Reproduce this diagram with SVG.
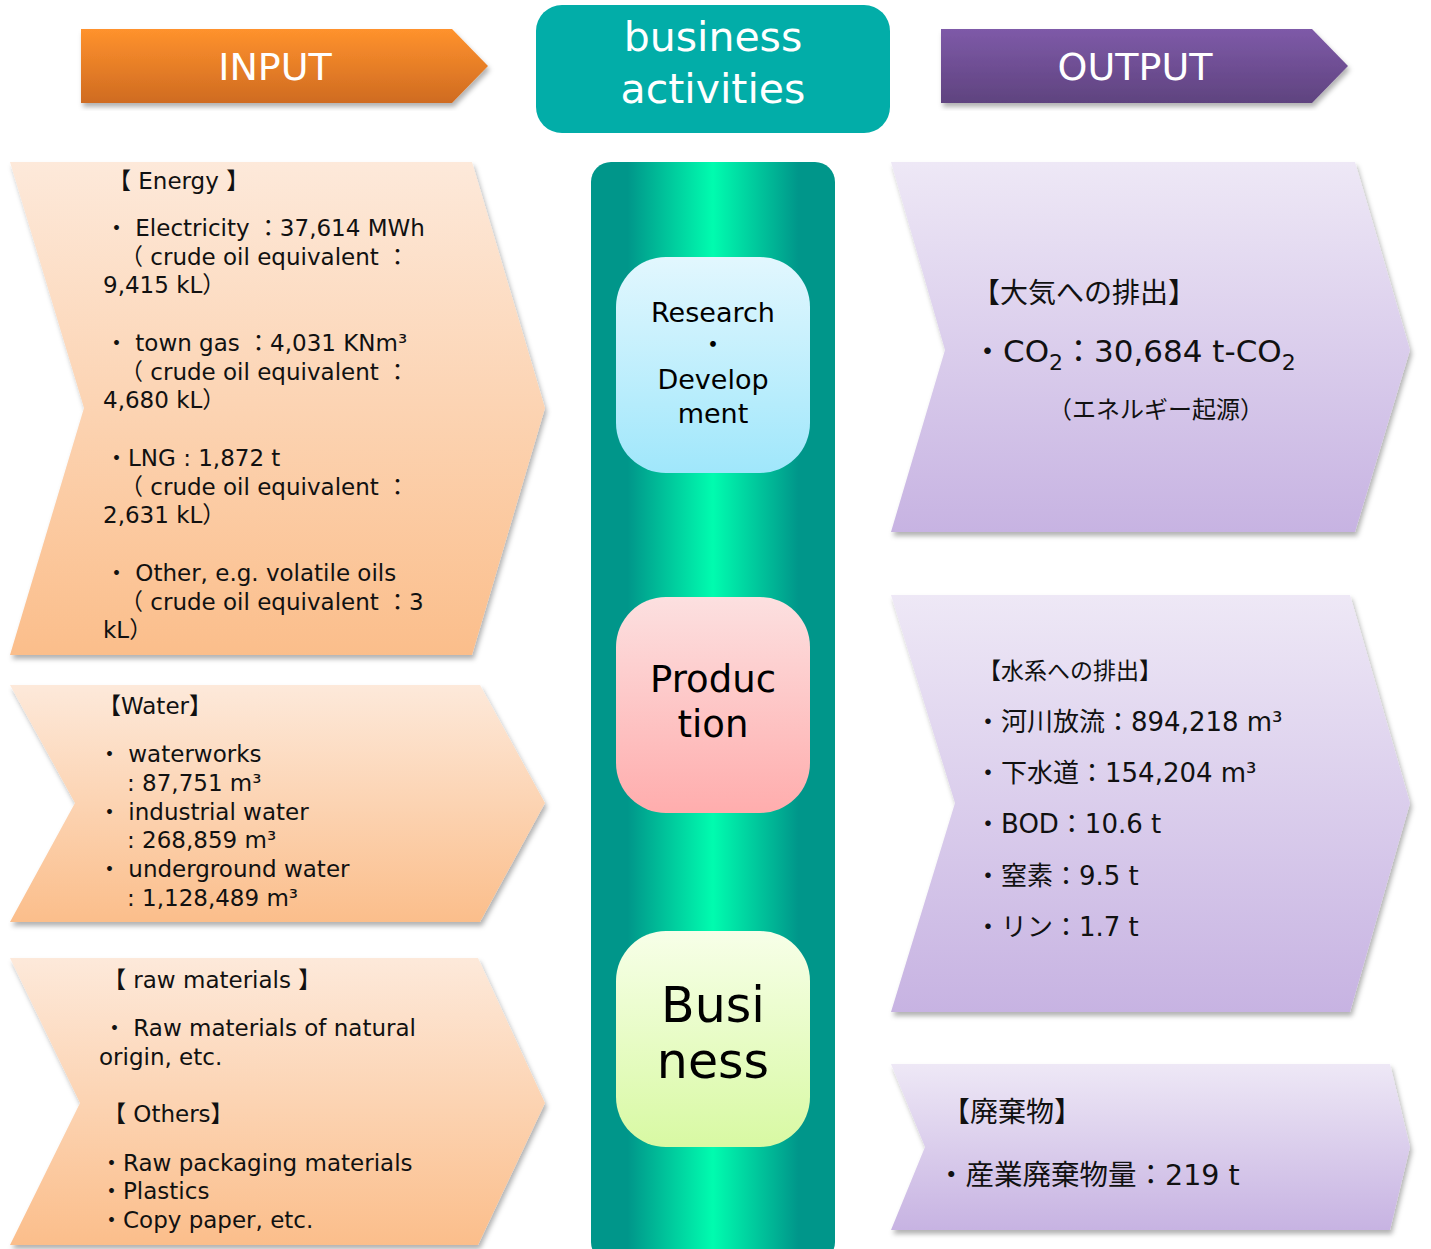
<svg xmlns="http://www.w3.org/2000/svg" width="1431" height="1249" viewBox="0 0 1431 1249">
<defs>
<linearGradient id="gIn" x1="0" y1="0" x2="0" y2="1"><stop offset="0" stop-color="#FF922D"/><stop offset="1" stop-color="#CF6B21"/></linearGradient>
<linearGradient id="gOut" x1="0" y1="0" x2="0" y2="1"><stop offset="0" stop-color="#7E5AA8"/><stop offset="1" stop-color="#5F437F"/></linearGradient>
<linearGradient id="gPeach" x1="0" y1="0" x2="0" y2="1"><stop offset="0" stop-color="#FDE9DA"/><stop offset="1" stop-color="#FBBE8B"/></linearGradient>
<linearGradient id="gLav" x1="0" y1="0" x2="0" y2="1"><stop offset="0" stop-color="#EEE8F6"/><stop offset="1" stop-color="#C7B3E2"/></linearGradient>
<linearGradient id="gCol" x1="0" y1="0" x2="1" y2="0"><stop offset="0" stop-color="#00968A"/><stop offset="0.15" stop-color="#00968A"/><stop offset="0.5" stop-color="#00FCAF"/><stop offset="0.85" stop-color="#00968A"/><stop offset="1" stop-color="#00968A"/></linearGradient>
<linearGradient id="gRD" x1="0" y1="0" x2="0" y2="1"><stop offset="0" stop-color="#E2F7FE"/><stop offset="1" stop-color="#A0E7FB"/></linearGradient>
<linearGradient id="gPr" x1="0" y1="0" x2="0" y2="1"><stop offset="0" stop-color="#FCE0E0"/><stop offset="1" stop-color="#FFADAD"/></linearGradient>
<linearGradient id="gBu" x1="0" y1="0" x2="0" y2="1"><stop offset="0" stop-color="#F7FFE8"/><stop offset="1" stop-color="#D8F9A3"/></linearGradient>
<filter id="sh" x="-5%" y="-5%" width="112%" height="115%"><feDropShadow dx="2" dy="4" stdDeviation="2.5" flood-color="#000" flood-opacity="0.3"/></filter>
<style>
.hd{font-family:"DejaVu Sans","Noto Sans CJK JP",sans-serif;fill:#fff;text-anchor:middle}
.t{font-family:"DejaVu Sans","Noto Sans CJK JP",sans-serif;fill:#111;font-size:23px}
.j{font-family:"DejaVu Sans","Noto Sans CJK JP",sans-serif;fill:#111}
.c{font-family:"DejaVu Sans","Noto Sans CJK JP",sans-serif;fill:#000;text-anchor:middle}
</style>
</defs>
<rect width="1431" height="1249" fill="#fff"/>

<g id="input-header">
<polygon points="81,29 452,29 488,66 452,103 81,103" fill="url(#gIn)" filter="url(#sh)"/>
<text class="hd" x="275" y="80" font-size="38">INPUT</text>
</g>
<g id="business-header">
<rect x="536" y="5" width="354" height="128" rx="26" fill="#02ADA8"/>
<text class="hd" x="713" y="51" font-size="41">business</text>
<text class="hd" x="713" y="103" font-size="41">activities</text>
</g>
<g id="output-header">
<polygon points="941,29 1312,29 1348,66 1312,103 941,103" fill="url(#gOut)" filter="url(#sh)"/>
<text class="hd" x="1135" y="80" font-size="38">OUTPUT</text>
</g>

<g id="energy">
<polygon points="10,162 472,162 545,408 472,655 10,655 84,408" fill="url(#gPeach)" filter="url(#sh)"/>
<text class="t" x="108" y="189">【 Energy 】</text>
<text class="t" x="105" y="236">・ Electricity ：37,614 MWh</text>
<text class="t" x="120" y="265">（ crude oil equivalent ：</text>
<text class="t" x="103" y="293">9,415 kL）</text>
<text class="t" x="105" y="351">・ town gas ：4,031 KNm³</text>
<text class="t" x="120" y="380">（ crude oil equivalent ：</text>
<text class="t" x="103" y="408">4,680 kL）</text>
<text class="t" x="105" y="466">・LNG : 1,872 t</text>
<text class="t" x="120" y="495">（ crude oil equivalent ：</text>
<text class="t" x="103" y="523">2,631 kL）</text>
<text class="t" x="105" y="581">・ Other, e.g. volatile oils</text>
<text class="t" x="120" y="610">（ crude oil equivalent ：3</text>
<text class="t" x="103" y="638">kL）</text>
</g>

<g id="water">
<polygon points="10,685 480,685 545,803 480,922 10,922 75,803" fill="url(#gPeach)" filter="url(#sh)"/>
<text class="t" x="98" y="714">【Water】</text>
<text class="t" x="98" y="762">・ waterworks</text>
<text class="t" x="127" y="791">: 87,751 m³</text>
<text class="t" x="98" y="820">・ industrial water</text>
<text class="t" x="127" y="848">: 268,859 m³</text>
<text class="t" x="98" y="877">・ underground water</text>
<text class="t" x="127" y="906">: 1,128,489 m³</text>
</g>

<g id="raw-materials">
<polygon points="10,958 478,958 545,1103 478,1245 10,1245 80,1103" fill="url(#gPeach)" filter="url(#sh)"/>
<text class="t" x="103" y="988">【 raw materials 】</text>
<text class="t" x="103" y="1036">・ Raw materials of natural</text>
<text class="t" x="99" y="1065">origin, etc.</text>
<text class="t" x="103" y="1122">【 Others】</text>
<text class="t" x="100" y="1171">・Raw packaging materials</text>
<text class="t" x="100" y="1199">・Plastics</text>
<text class="t" x="100" y="1228">・Copy paper, etc.</text>
</g>

<g id="business-column">
<rect x="591" y="162" width="244" height="1100" rx="20" fill="url(#gCol)"/>
</g>
<g id="research-development">
<rect x="616" y="257" width="194" height="216" rx="50" fill="url(#gRD)"/>
<text class="c" x="713" y="322" font-size="27">Research</text>
<text class="c" x="713" y="354" font-size="27">・</text>
<text class="c" x="713" y="389" font-size="27">Develop</text>
<text class="c" x="713" y="423" font-size="27">ment</text>
</g>
<g id="production">
<rect x="616" y="597" width="194" height="216" rx="50" fill="url(#gPr)"/>
<text class="c" x="713" y="692" font-size="37">Produc</text>
<text class="c" x="713" y="737" font-size="37">tion</text>
</g>
<g id="business">
<rect x="616" y="931" width="194" height="216" rx="50" fill="url(#gBu)"/>
<text class="c" x="713" y="1022" font-size="49">Busi</text>
<text class="c" x="713" y="1078" font-size="49">ness</text>
</g>

<g id="air-emissions">
<polygon points="891,162 1355,162 1410,350 1355,532 891,532 945,350" fill="url(#gLav)" filter="url(#sh)"/>
<text class="j" x="972" y="303" font-size="28">【大気への排出】</text>
<text class="j" x="972" y="362" font-size="31">・CO<tspan font-size="22" dy="8">2</tspan><tspan dy="-8">：30,684 t-CO</tspan><tspan font-size="22" dy="8">2</tspan></text>
<text class="j" x="1048" y="418" font-size="24">（エネルギー起源）</text>
</g>

<g id="water-emissions">
<polygon points="891,595 1350,595 1410,803 1350,1012 891,1012 955,803" fill="url(#gLav)" filter="url(#sh)"/>
<text class="j" x="978" y="679" font-size="23">【水系への排出】</text>
<text class="j" x="975" y="731" font-size="26">・河川放流：894,218 m³</text>
<text class="j" x="975" y="782" font-size="26">・下水道：154,204 m³</text>
<text class="j" x="975" y="833" font-size="26">・BOD：10.6 t</text>
<text class="j" x="975" y="885" font-size="26">・窒素：9.5 t</text>
<text class="j" x="975" y="936" font-size="26">・リン：1.7 t</text>
</g>

<g id="waste">
<polygon points="891,1064 1390,1064 1410,1147 1390,1230 891,1230 925,1147" fill="url(#gLav)" filter="url(#sh)"/>
<text class="j" x="942" y="1122" font-size="28">【廃棄物】</text>
<text class="j" x="937" y="1185" font-size="28.5">・産業廃棄物量：219 t</text>
</g>
</svg>
